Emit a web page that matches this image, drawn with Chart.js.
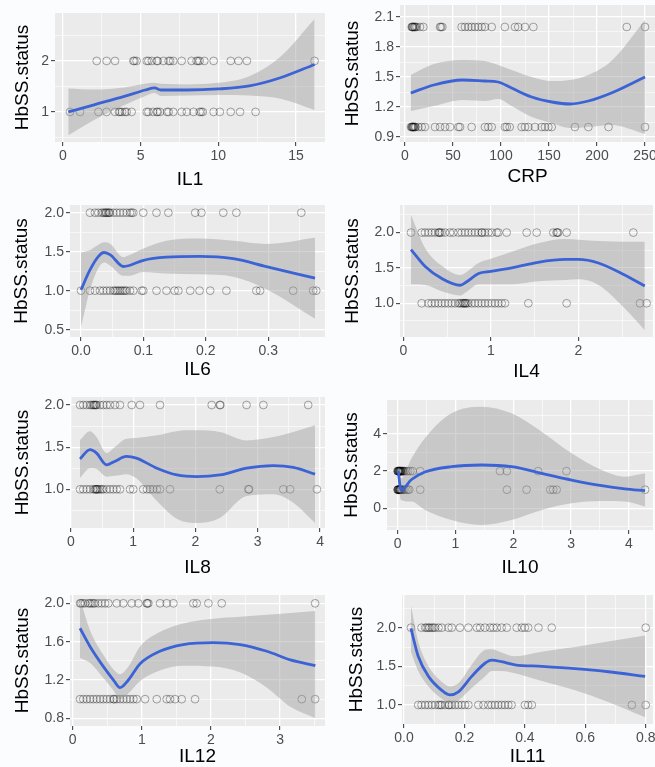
<!DOCTYPE html>
<html>
<head>
<meta charset="utf-8">
<title>HbSS.status vs cytokines</title>
<script src="https://cdn.jsdelivr.net/npm/chart.js@4.4.0/dist/chart.umd.min.js"></script>
<style>
  html, body { margin: 0; padding: 0; background: #fbfcfd; }
  body { width: 655px; height: 767px; position: relative; overflow: hidden; }
  canvas { position: absolute; }
</style>
</head>
<body>
<script>
// ---- data ----
// IL1
const il1_x   = [0.34, 2, 4, 5.3, 5.9, 6.3, 8, 10, 12, 14, 16.2];
const il1_fit = [1.0, 1.14, 1.31, 1.43, 1.47, 1.43, 1.43, 1.45, 1.51, 1.67, 1.93];
const il1_hi  = [1.46, 1.44, 1.48, 1.55, 1.57, 1.55, 1.54, 1.57, 1.70, 2.08, 2.82];
const il1_lo  = [0.54, 0.84, 1.14, 1.31, 1.37, 1.31, 1.32, 1.33, 1.32, 1.26, 1.04];
const il1_s2  = [2.17, 2.81, 3.35, 4.53, 4.6, 4.74, 5.39, 5.5, 5.72, 6.04, 6.1, 6.47, 6.8, 6.9, 7.1, 7.64, 8.28, 8.6, 8.7, 8.8, 9.1, 9.7, 10.8, 11.3, 11.84, 16.2];
const il1_s1  = [0.45, 1.1, 2.28, 2.81, 3.35, 3.6, 3.67, 3.8, 3.99, 4.1, 4.42, 5.39, 5.5, 5.8, 6.04, 6.1, 6.25, 6.7, 6.8, 7.1, 7.64, 7.97, 8.4, 8.8, 8.9, 9.0, 9.7, 10.1, 10.8, 11.4, 12.4];

// CRP
const crp_x   = [6, 30, 60, 83, 97, 111, 132, 153, 172, 191, 215, 250];
const crp_fit = [1.34, 1.42, 1.47, 1.46, 1.45, 1.39, 1.30, 1.25, 1.23, 1.26, 1.34, 1.50];
const crp_hi  = [1.52, 1.63, 1.67, 1.66, 1.62, 1.57, 1.50, 1.46, 1.47, 1.52, 1.66, 2.07];
const crp_lo  = [1.16, 1.21, 1.27, 1.26, 1.28, 1.21, 1.10, 1.04, 0.99, 1.00, 1.02, 0.93];
const crp_s2  = [7, 7.6, 8, 8.5, 9.7, 10, 11, 12.2, 15.6, 19.1, 36.5, 37.5, 38.9, 59, 62.5, 66, 69.4, 72.9, 76.4, 79.9, 83.3, 90.3, 104, 114.6, 118, 125, 133.7, 231, 250];
const crp_s1  = [6.3, 7, 7.6, 8, 8.5, 9, 9.5, 10.4, 11, 13.9, 17.4, 20.8, 31.3, 36.5, 41.7, 46.9, 55.6, 57.3, 69.4, 83.3, 86.8, 90.3, 104, 106, 109, 121.5, 125, 128.5, 135.4, 142.4, 145.8, 149.3, 152.8, 177, 191, 212, 250];

// IL6
const il6_x   = [0, 0.014, 0.028, 0.037, 0.047, 0.068, 0.076, 0.1, 0.137, 0.19, 0.244, 0.297, 0.375];
const il6_fit = [1.01, 1.26, 1.44, 1.49, 1.46, 1.31, 1.32, 1.39, 1.43, 1.44, 1.41, 1.31, 1.16];
const il6_hi  = [1.49, 1.52, 1.59, 1.62, 1.60, 1.43, 1.45, 1.54, 1.64, 1.67, 1.64, 1.60, 1.68];
const il6_lo  = [0.53, 1.00, 1.29, 1.36, 1.32, 1.19, 1.19, 1.24, 1.22, 1.21, 1.18, 1.02, 0.64];
const il6_s2  = [0.0144, 0.0224, 0.0278, 0.0331, 0.0358, 0.0384, 0.04, 0.0411, 0.0438, 0.045, 0.0465, 0.0518, 0.0571, 0.0625, 0.0678, 0.0731, 0.0785, 0.0812, 0.0838, 0.0998, 0.121, 0.14, 0.183, 0.193, 0.228, 0.249, 0.353];
const il6_s1  = [0, 0.0144, 0.0224, 0.0304, 0.0358, 0.0411, 0.0465, 0.0518, 0.0545, 0.0571, 0.0598, 0.0625, 0.0651, 0.0678, 0.0705, 0.0731, 0.0785, 0.0838, 0.0972, 0.0998, 0.121, 0.137, 0.15, 0.156, 0.175, 0.19, 0.207, 0.233, 0.281, 0.287, 0.34, 0.372, 0.377];

// IL4
const il4_x   = [0.088, 0.25, 0.44, 0.65, 0.72, 0.86, 1.0, 1.24, 1.54, 1.85, 2.0, 2.23, 2.53, 2.76];
const il4_fit = [1.76, 1.52, 1.35, 1.255, 1.30, 1.42, 1.45, 1.50, 1.58, 1.62, 1.62, 1.57, 1.40, 1.245];
const il4_hi  = [2.25, 1.78, 1.53, 1.40, 1.44, 1.57, 1.63, 1.73, 1.85, 1.91, 1.90, 1.88, 1.87, 1.87];
const il4_lo  = [1.27, 1.26, 1.17, 1.11, 1.16, 1.27, 1.27, 1.27, 1.31, 1.33, 1.34, 1.26, 0.93, 0.62];
const il4_s2  = [0.088, 0.21, 0.248, 0.286, 0.324, 0.362, 0.4, 0.41, 0.419, 0.438, 0.476, 0.533, 0.571, 0.629, 0.667, 0.705, 0.743, 0.781, 0.819, 0.857, 0.895, 0.9, 0.933, 0.971, 1.01, 1.067, 1.086, 1.181, 1.41, 1.524, 1.714, 1.752, 1.76, 1.771, 1.867, 2.629];
const il4_s1  = [0.21, 0.286, 0.324, 0.362, 0.4, 0.438, 0.476, 0.514, 0.552, 0.59, 0.629, 0.648, 0.667, 0.686, 0.69, 0.705, 0.71, 0.724, 0.743, 0.781, 0.819, 0.857, 0.895, 0.933, 0.971, 1.01, 1.048, 1.086, 1.124, 1.162, 1.429, 1.867, 2.705, 2.781];

// IL8
const il8_x   = [0.145, 0.305, 0.41, 0.57, 0.7, 0.89, 1.05, 1.38, 1.7, 2.02, 2.39, 2.82, 3.25, 3.57, 3.92];
const il8_fit = [1.36, 1.47, 1.43, 1.29, 1.33, 1.39, 1.37, 1.25, 1.17, 1.15, 1.17, 1.25, 1.28, 1.26, 1.18];
const il8_hi  = [1.585, 1.69, 1.62, 1.43, 1.50, 1.60, 1.61, 1.64, 1.69, 1.70, 1.68, 1.58, 1.62, 1.68, 1.76];
const il8_lo  = [1.135, 1.25, 1.24, 1.15, 1.16, 1.18, 1.13, 0.86, 0.65, 0.60, 0.66, 0.92, 0.94, 0.84, 0.60];
const il8_s2  = [0.145, 0.198, 0.252, 0.305, 0.33, 0.359, 0.37, 0.386, 0.4, 0.412, 0.466, 0.519, 0.573, 0.627, 0.707, 0.787, 0.975, 1.108, 1.43, 2.26, 2.39, 2.4, 2.82, 3.09, 3.81];
const il8_s1  = [0.145, 0.198, 0.252, 0.305, 0.359, 0.386, 0.4, 0.412, 0.42, 0.439, 0.466, 0.493, 0.519, 0.573, 0.627, 0.68, 0.734, 0.787, 0.948, 1.0, 1.16, 1.22, 1.27, 1.32, 1.38, 1.43, 1.59, 2.39, 2.85, 2.86, 3.41, 3.52, 3.95];

// IL10
const il10_x   = [0.01, 0.057, 0.24, 0.47, 0.93, 1.45, 1.97, 2.49, 3.01, 3.53, 3.93, 4.28];
const il10_fit = [2.0, 0.98, 1.55, 1.95, 2.24, 2.33, 2.24, 1.88, 1.52, 1.22, 1.05, 0.95];
const il10_hi  = [2.3, 1.6, 2.69, 3.77, 5.11, 5.47, 5.11, 4.12, 2.96, 2.06, 1.70, 1.88];
const il10_lo  = [1.7, 0.45, 0.36, -0.09, -0.63, -0.9, -0.63, -0.09, 0.27, 0.39, 0.36, 0.09];
const il10_s2  = [0, 0, 0.01, 0.01, 0.02, 0.02, 0.03, 0.03, 0.04, 0.04, 0.05, 0.05, 0.06, 0.07, 0.08, 0.09, 0.1, 0.12, 0.15, 0.18, 0.22, 0.26, 0.39, 1.77, 1.89, 2.43, 2.92];
const il10_s1  = [0, 0, 0.01, 0.01, 0.02, 0.02, 0.03, 0.03, 0.04, 0.04, 0.05, 0.05, 0.06, 0.07, 0.08, 0.1, 0.12, 0.15, 0.18, 0.2, 0.39, 1.89, 2.23, 2.64, 2.69, 2.75, 4.28];

// IL12
const il12_x   = [0.106, 0.25, 0.444, 0.59, 0.685, 0.806, 0.975, 1.26, 1.6, 2.04, 2.42, 2.81, 3.15, 3.51];
const il12_fit = [1.74, 1.55, 1.34, 1.20, 1.12, 1.20, 1.37, 1.50, 1.57, 1.59, 1.57, 1.50, 1.41, 1.35];
const il12_hi  = [2.05, 1.72, 1.46, 1.31, 1.26, 1.34, 1.55, 1.70, 1.79, 1.84, 1.86, 1.88, 1.90, 1.92];
const il12_lo  = [1.43, 1.38, 1.22, 1.09, 1.00, 1.06, 1.19, 1.30, 1.35, 1.34, 1.28, 1.12, 0.92, 0.80];
const il12_s2  = [0.106, 0.12, 0.145, 0.178, 0.227, 0.25, 0.275, 0.3, 0.323, 0.371, 0.42, 0.468, 0.516, 0.637, 0.733, 0.854, 0.95, 1.071, 1.08, 1.095, 1.264, 1.36, 1.457, 1.746, 1.794, 1.963, 2.156, 3.507];
const il12_s1  = [0.106, 0.154, 0.203, 0.251, 0.299, 0.347, 0.396, 0.444, 0.492, 0.54, 0.589, 0.6, 0.637, 0.685, 0.733, 0.781, 0.83, 0.878, 0.926, 1.047, 1.216, 1.36, 1.409, 1.481, 1.577, 1.77, 3.314, 3.507];

// IL11
const il11_x   = [0.023, 0.047, 0.081, 0.125, 0.152, 0.18, 0.224, 0.268, 0.29, 0.323, 0.367, 0.456, 0.566, 0.676, 0.798];
const il11_fit = [1.99, 1.63, 1.37, 1.19, 1.13, 1.17, 1.37, 1.54, 1.58, 1.56, 1.52, 1.50, 1.47, 1.43, 1.37];
const il11_hi  = [2.29, 1.82, 1.50, 1.30, 1.24, 1.28, 1.52, 1.71, 1.72, 1.68, 1.63, 1.69, 1.75, 1.82, 1.90];
const il11_lo  = [1.69, 1.44, 1.24, 1.08, 1.02, 1.06, 1.22, 1.37, 1.44, 1.44, 1.41, 1.31, 1.19, 1.04, 0.84];
const il11_s2  = [0.023, 0.058, 0.07, 0.075, 0.081, 0.085, 0.092, 0.097, 0.103, 0.114, 0.125, 0.147, 0.158, 0.185, 0.213, 0.241, 0.252, 0.268, 0.285, 0.296, 0.307, 0.323, 0.34, 0.373, 0.39, 0.4, 0.411, 0.445, 0.489, 0.8];
const il11_s1  = [0.047, 0.058, 0.07, 0.081, 0.092, 0.103, 0.114, 0.12, 0.125, 0.136, 0.147, 0.15, 0.158, 0.169, 0.18, 0.191, 0.202, 0.213, 0.246, 0.263, 0.279, 0.29, 0.301, 0.312, 0.323, 0.334, 0.345, 0.356, 0.4, 0.411, 0.423, 0.754, 0.8];

// ---- panel layout (page px) and axis settings ----
const panels = [
  { name: 'IL1',  fx: il1_x,  fit: il1_fit,  hi: il1_hi,  lo: il1_lo,  s1: il1_s1,  s2: il1_s2,
    box: [0, 0, 327, 190],     area: [55, 13, 325, 142],   yT: 23,  xT: 180,
    xr: [-0.515, 16.87], xs: 5,   xd: 0, yr: [0.41, 2.94],  ys: 1,   yd: 0 },
  { name: 'CRP',  fx: crp_x,  fit: crp_fit,  hi: crp_hi,  lo: crp_lo,  s1: crp_s1,  s2: crp_s2,
    box: [327, 0, 328, 190],   area: [400, 5, 655, 142],   yT: 353, xT: 177,
    xr: [-5.2, 260.4],   xs: 50,  xd: 0, yr: [0.85, 2.22],  ys: 0.3, yd: 1 },
  { name: 'IL6',  fx: il6_x,  fit: il6_fit,  hi: il6_hi,  lo: il6_lo,  s1: il6_s1,  s2: il6_s2,
    box: [0, 190, 327, 190],   area: [70, 205, 325, 337],  yT: 22,  xT: 370,
    xr: [-0.0176, 0.391], xs: 0.1, xd: 1, yr: [0.406, 2.099], ys: 0.5, yd: 1 },
  { name: 'IL4',  fx: il4_x,  fit: il4_fit,  hi: il4_hi,  lo: il4_lo,  s1: il4_s1,  s2: il4_s2,
    box: [327, 190, 328, 190], area: [400, 205, 653, 337], yT: 353, xT: 372,
    xr: [-0.038, 2.854], xs: 1,   xd: 0, yr: [0.523, 2.39], ys: 0.5, yd: 1 },
  { name: 'IL8',  fx: il8_x,  fit: il8_fit,  hi: il8_hi,  lo: il8_lo,  s1: il8_s1,  s2: il8_s2,
    box: [0, 380, 327, 200],   area: [70, 397, 325, 528],  yT: 23,  xT: 568,
    xr: [-0.016, 4.08],  xs: 1,   xd: 0, yr: [0.541, 2.095], ys: 0.5, yd: 1 },
  { name: 'IL10', fx: il10_x, fit: il10_fit, hi: il10_hi, lo: il10_lo, s1: il10_s1, s2: il10_s2,
    box: [327, 380, 328, 200], area: [387, 400, 653, 530], yT: 352, xT: 568,
    xr: [-0.185, 4.417], xs: 1,   xd: 0, yr: [-1.17, 5.83], ys: 2,   yd: 0 },
  { name: 'IL12', fx: il12_x, fit: il12_fit, hi: il12_hi, lo: il12_lo, s1: il12_s1, s2: il12_s2,
    box: [0, 570, 327, 197],   area: [70, 595, 325, 726],  yT: 23,  xT: 757,
    xr: [-0.039, 3.65],  xs: 1,   xd: 0, yr: [0.72, 2.087], ys: 0.4, yd: 1 },
  { name: 'IL11', fx: il11_x, fit: il11_fit, hi: il11_hi, lo: il11_lo, s1: il11_s1, s2: il11_s2,
    box: [327, 570, 328, 197], area: [402, 595, 653, 724], yT: 357, xT: 757,
    xr: [-0.0066, 0.824], xs: 0.2, xd: 1, yr: [0.754, 2.423], ys: 0.5, yd: 1 }
];

Chart.defaults.font.family = "'Liberation Sans', Arial, sans-serif";
const TITLE_SIZE = 19;
const LH = TITLE_SIZE * 1.2;

// grey ggplot panel behind the grid
const panelBg = {
  id: 'panelBg',
  beforeDraw(chart) {
    const { ctx, chartArea: a } = chart;
    ctx.save();
    ctx.fillStyle = '#ebebeb';
    ctx.fillRect(a.left, a.top, a.right - a.left, a.bottom - a.top);
    ctx.restore();
  }
};

// major ticks every `step`, minor gridlines halfway
function makeTicks(min, max, step) {
  const half = step / 2;
  const out = [];
  for (let k = Math.ceil(min / half - 1e-9); k * half <= max + 1e-9; k++) {
    out.push({ value: +(k * half).toFixed(6), minor: k % 2 !== 0 });
  }
  return out;
}

function axis(range, step, dec, title, fitSize, isX) {
  return {
    type: 'linear',
    min: range[0],
    max: range[1],
    afterBuildTicks: s => { s.ticks = makeTicks(range[0], range[1], step); },
    afterFit: s => {
      if (isX) s.height = fitSize; else s.width = fitSize;
      s.paddingLeft = s.paddingRight = s.paddingTop = s.paddingBottom = 0;
    },
    border: { display: false },
    grid: {
      color: '#ffffff',
      lineWidth: c => (c.tick && c.tick.minor ? 0.6 : 1.3),
      drawTicks: true,
      tickLength: 4,
      tickWidth: 1,
      tickColor: c => (c.tick && c.tick.minor ? 'rgba(0,0,0,0)' : '#333333')
    },
    ticks: {
      autoSkip: false,
      maxRotation: 0,
      padding: 2,
      color: '#4d4d4d',
      font: { size: 14 },
      callback: (v, i, t) => (t[i].minor ? '' : v.toFixed(dec))
    },
    title: {
      display: true,
      text: title,
      color: '#000000',
      font: { size: TITLE_SIZE },
      padding: { top: 0, bottom: 0 }
    }
  };
}

function curve(xs, ys) { return xs.map((x, i) => ({ x: x, y: ys[i] })); }
function pts(xs, y) { return xs.map(x => ({ x: x, y: y })); }

panels.forEach(p => {
  const [bx, by, bw, bh] = p.box;
  const [al, at, ar, ab] = p.area;
  const cv = document.createElement('canvas');
  cv.width = bw; cv.height = bh;
  cv.style.left = bx + 'px'; cv.style.top = by + 'px';
  cv.style.width = bw + 'px'; cv.style.height = bh + 'px';
  document.body.appendChild(cv);

  const padLeft = p.yT - bx - LH / 2;
  const padBottom = by + bh - (p.xT + LH / 2);

  new Chart(cv, {
    type: 'scatter',
    data: {
      datasets: [
        { data: curve(p.fx, p.fit), showLine: true, borderColor: '#3b63d6', borderWidth: 2.8,
          pointRadius: 0, cubicInterpolationMode: 'monotone', fill: false },
        { data: curve(p.fx, p.hi), showLine: true, borderWidth: 0, borderColor: 'rgba(0,0,0,0)',
          pointRadius: 0, cubicInterpolationMode: 'monotone', fill: '+1',
          backgroundColor: 'rgba(153,153,153,0.43)' },
        { data: curve(p.fx, p.lo), showLine: true, borderWidth: 0, borderColor: 'rgba(0,0,0,0)',
          pointRadius: 0, cubicInterpolationMode: 'monotone', fill: false },
        { data: pts(p.s1, 1).concat(pts(p.s2, 2)), pointRadius: 3.9, borderWidth: 1,
          borderColor: 'rgba(0,0,0,0.33)', backgroundColor: 'rgba(0,0,0,0)' }
      ]
    },
    options: {
      responsive: false,
      animation: false,
      devicePixelRatio: 1,
      layout: {
        autoPadding: false,
        padding: { left: padLeft, top: at - by, right: bx + bw - ar, bottom: padBottom }
      },
      plugins: { legend: { display: false }, tooltip: { enabled: false } },
      scales: {
        x: axis(p.xr, p.xs, p.xd, p.name, p.xT + LH / 2 - ab, true),
        y: axis(p.yr, p.ys, p.yd, 'HbSS.status', al - bx - padLeft, false)
      }
    },
    plugins: [panelBg]
  });
});
</script>
</body>
</html>
